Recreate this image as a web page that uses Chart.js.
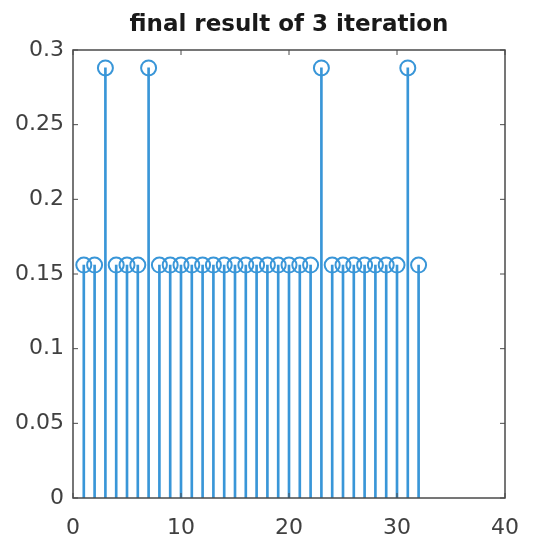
<!DOCTYPE html>
<html>
<head>
<meta charset="utf-8">
<script src="https://cdn.jsdelivr.net/npm/chart.js@4/dist/chart.umd.min.js"></script>
<style>
  html, body { margin: 0; padding: 0; background: #fff; }
  #c { display: block; }
</style>
</head>
<body>
<canvas id="c" width="549" height="543"></canvas>
<script>
// ---- data ----
const xValues = [1,2,3,4,5,6,7,8,9,10,11,12,13,14,15,16,17,18,19,20,21,22,23,24,25,26,27,28,29,30,31,32];
const yValues = [0.156,0.156,0.288,0.156,0.156,0.156,0.288,0.156,0.156,0.156,0.156,0.156,0.156,0.156,0.156,0.156,
                 0.156,0.156,0.156,0.156,0.156,0.156,0.288,0.156,0.156,0.156,0.156,0.156,0.156,0.156,0.288,0.156];
const xTicks = [0, 10, 20, 30, 40];
const yTicks = [0, 0.05, 0.1, 0.15, 0.2, 0.25, 0.3];
const titleText = 'final result of 3 iteration';

const points = xValues.map((x, i) => ({ x: x, y: yValues[i] }));
const stemColor = '#3996d8';
const axisColor = '#4a4a4a';
const labelColor = '#404040';
const fontFamily = '"DejaVu Sans", sans-serif';

const boxPlugin = {
  id: 'matlabBox',
  afterDraw(chart) {
    const { ctx, chartArea: a, scales } = chart;
    ctx.save();
    ctx.strokeStyle = axisColor;
    ctx.lineWidth = 1.5;
    ctx.strokeRect(a.left, a.top, a.right - a.left, a.bottom - a.top);
    ctx.lineWidth = 1;
    const tl = 5;
    ctx.beginPath();
    xTicks.forEach(v => {
      const px = scales.x.getPixelForValue(v);
      ctx.moveTo(px, a.bottom); ctx.lineTo(px, a.bottom - tl);
      ctx.moveTo(px, a.top); ctx.lineTo(px, a.top + tl);
    });
    yTicks.forEach(v => {
      const py = scales.y.getPixelForValue(v);
      ctx.moveTo(a.left, py); ctx.lineTo(a.left + tl, py);
      ctx.moveTo(a.right, py); ctx.lineTo(a.right - tl, py);
    });
    ctx.stroke();
    ctx.restore();
  }
};

new Chart(document.getElementById('c'), {
  data: {
    datasets: [
      {
        type: 'scatter',
        data: points,
        showLine: false,
        pointStyle: 'circle',
        pointRadius: 7.5,
        pointHoverRadius: 7.5,
        pointBorderWidth: 2,
        borderColor: stemColor,
        backgroundColor: 'rgba(0,0,0,0)',
        order: 0
      },
      {
        type: 'bar',
        data: points,
        barThickness: 2,
        backgroundColor: stemColor,
        borderWidth: 0,
        order: 1
      }
    ]
  },
  options: {
    responsive: false,
    animation: false,
    events: [],
    layout: { padding: { left: 0, right: 44, top: 0, bottom: 0 } },
    plugins: {
      legend: { display: false },
      tooltip: { enabled: false },
      title: {
        display: true,
        text: titleText,
        fullSize: false,
        color: '#1a1a1a',
        font: { family: fontFamily, size: 23, weight: 'bold', lineHeight: 1.2 },
        padding: { top: 11, bottom: 11.4 }
      }
    },
    scales: {
      x: {
        type: 'linear',
        min: 0,
        max: 40,
        offset: false,
        afterFit(scale) { scale.height = 45; },
        afterBuildTicks(scale) { scale.ticks = xTicks.map(v => ({ value: v })); },
        grid: { display: false, drawTicks: false, offset: false },
        border: { display: false },
        ticks: {
          color: labelColor,
          font: { family: fontFamily, size: 22 },
          padding: 17,
          maxRotation: 0
        }
      },
      y: {
        type: 'linear',
        min: 0,
        max: 0.3,
        afterFit(scale) { scale.width = 73; },
        afterBuildTicks(scale) { scale.ticks = yTicks.map(v => ({ value: v })); },
        grid: { display: false, drawTicks: false },
        border: { display: false },
        ticks: {
          color: labelColor,
          font: { family: fontFamily, size: 22 },
          padding: 9,
          callback: v => String(Math.round(v * 100) / 100)
        }
      }
    }
  },
  plugins: [boxPlugin]
});
</script>
</body>
</html>
